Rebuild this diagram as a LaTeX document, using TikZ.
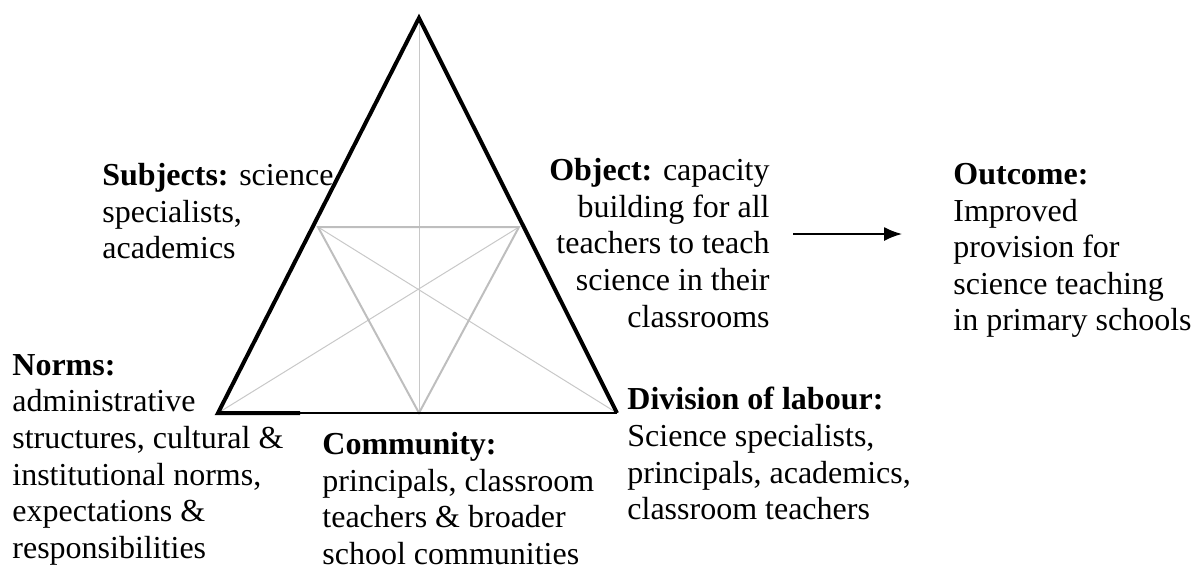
\documentclass[tikz,border=0pt]{standalone}
\usepackage{fontspec}
\setmainfont{Liberation Serif}
\usetikzlibrary{arrows.meta}
\definecolor{trigrey}{RGB}{190,190,190}
\definecolor{crossgrey}{RGB}{200,200,200}
\tikzset{
  sideline/.style={draw=black,line width=2pt,line join=miter},
  baseedge/.style={draw=black,line width=1.2pt},
  innerline/.style={draw=trigrey,line width=1pt},
  crossline/.style={draw=crossgrey,line width=0.5pt},
  lbl/.style={font=\fontsize{16}{18.3}\selectfont,inner sep=0pt,align=left},
}
\begin{document}
\begin{tikzpicture}[x=0.5pt,y=-0.5pt]
  \useasboundingbox (0,0) rectangle (1195,568);
  \coordinate (apex) at (419,18);
  \coordinate (bl) at (218,413);
  \coordinate (br) at (617,413);
  \coordinate (bm) at (419,413);
  \coordinate (il) at (318,227);
  \coordinate (ir) at (519,227);
  \draw[crossline] (apex) -- (bm);
  \draw[crossline] (bl) -- (ir);
  \draw[crossline] (br) -- (il);
  \draw[innerline] (il) -- (ir) -- (bm) -- cycle;
  \draw[baseedge] (bl) -- (br);
  \draw[sideline] (300,413) -- (bl) -- (apex) -- (br);
  \node[lbl,anchor=north west] (subjects) at (102,163)
    {\textbf{Subjects:} science\\specialists,\\academics};
  \node[lbl,anchor=north east,align=right] (object) at (770,158)
    {\textbf{Object:} capacity\\building for all\\teachers to teach\\science in their\\classrooms};
  \node[lbl,anchor=north west] (outcome) at (953,163)
    {\textbf{Outcome:}\\Improved\\provision for\\science teaching\\in primary schools};
  \node[lbl,anchor=north west] (norms) at (12,354)
    {\textbf{Norms:}\\administrative\\structures, cultural \&\\institutional norms,\\expectations \&\\responsibilities};
  \node[lbl,anchor=north west] (community) at (322,432)
    {\textbf{Community:}\\principals, classroom\\teachers \& broader\\school communities};
  \node[lbl,anchor=north west] (division) at (627,387)
    {\textbf{Division of labour:}\\Science specialists,\\principals, academics,\\classroom teachers};
  \coordinate (arrowstart) at (793,234);
  \coordinate (arrowend) at (902,234);
  \draw[-{Latex[length=9pt,width=7pt]},line width=0.8pt] (arrowstart) -- (arrowend);
\end{tikzpicture}
\end{document}
